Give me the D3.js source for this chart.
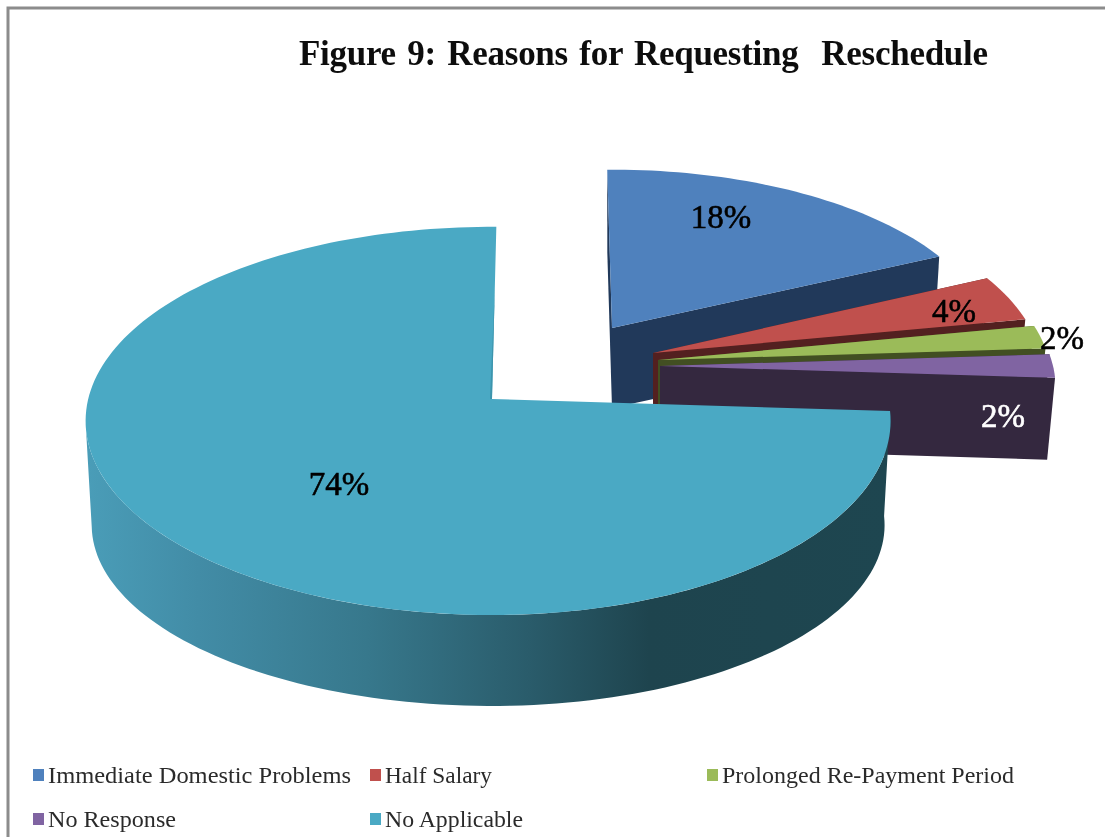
<!DOCTYPE html>
<html>
<head>
<meta charset="utf-8">
<script src="https://cdn.jsdelivr.net/npm/d3@7/dist/d3.min.js"></script>
<style>
html,body{margin:0;padding:0;background:#fff;overflow:hidden}
svg{display:block}
text{font-family:"Liberation Serif",serif}
</style>
</head>
<body>
<svg id="chart" width="1105" height="837"></svg>
<script>
// Data
const categories = ["Immediate Domestic Problems","Half Salary","Prolonged Re-Payment Period","No Response","No Applicable"];
const shares = [18,4,2,2,74];
const titleText = "Figure 9: Reasons for Requesting  Reschedule";

// Styles
const topColors  = ["#4f81bd","#c0504d","#9bbb59","#8064a2","#4aa9c4"];
const sideColors = ["#21395a","#532020","#424f22","#34283f","#1e444e"];
const labelColors = ["#000","#000","#000","#fff","#000"];

// Layout: exploded 3-D pie, one tip per slice
const tipX = [612,653,658,660,492];
const tipY = [328,353,360,366,399];
const radiusRight = [.95,.97,.98,.985,.9925];
const radiusLeft = [.95,.97,.98,.985,1.012];
const radiusY = [.92,.96,.97,.98,1];
const depth = [80,60,50,82,105.6];
const bottomX = [.985,.985,.985,.98,.985];
const bottomY = [.98,.98,.98,.98,.932];
const startNudge = [-.8,0,0,0,0];
const endNudge = [0,0,0,0,.7];
const silhouetteAngle = 263;
const labelX = [721,954,1062,1003,339];
const labelY = [217,311,338,416,484];
const legendX = [33,370,707,33,370];
const legendY = [775,775,775,819,819];
const legendTextWidth = [303,107,292,128,138];
const R = 399, A = 191.6, K = 0.113;

const svg = d3.select("#chart");
const defs = svg.append("defs");
const grad = defs.append("linearGradient").attr("id","wall").attr("gradientUnits","userSpaceOnUse")
  .attr("x1",86).attr("x2",890).attr("y1",0).attr("y2",0);
[[0,"#4a9db8"],[.14,"#428ca6"],[.35,"#37788c"],[.55,"#2a5c6b"],[.7,"#1e444e"],[1,"#1e4650"]]
  .forEach(([o,c])=>grad.append("stop").attr("offset",o).attr("stop-color",c));
defs.append("filter").attr("id","soft").append("feGaussianBlur").attr("stdDeviation",.45);

// frame
svg.append("path").attr("d","M8,837V8H1105").attr("fill","none").attr("stroke","#8c8c8c").attr("stroke-width",3);

// title
svg.append("text").attr("x",299).attr("y",65).attr("font-size",35).attr("font-weight","bold")
  .attr("fill","#111").style("white-space","pre").style("word-spacing","3px")
  .attr("textLength",689).attr("lengthAdjust","spacing").attr("filter","url(#soft)").text(titleText);

const arcs = d3.pie().sort(null).startAngle(0).endAngle(2*Math.PI)(shares);
const toDeg = d3.scaleLinear().domain([0,2*Math.PI]).range([0,360]);

function project(i,deg,r,bottom){
  const a = deg*Math.PI/180;
  const u = r*Math.sin(a), v = -r*Math.cos(a), den = 1-K*v;
  let dx = (u<0?radiusLeft[i]:radiusRight[i])*R*u/den, dy = radiusY[i]*A*v/den;
  if(bottom){ dx*=bottomX[i]; dy=dy*bottomY[i]+depth[i]; }
  return [tipX[i]+dx, tipY[i]+dy];
}
const line = d3.line();
function rim(i,a0,a1,bottom){
  const n = Math.max(4,Math.ceil(Math.abs(a1-a0)/1.5));
  return d3.range(n+1).map(j=>project(i,a0+(a1-a0)*j/n,1,bottom));
}
arcs.forEach((d,i)=>{
  const a0 = toDeg(d.startAngle)+startNudge[i], a1 = toDeg(d.endAngle)+endNudge[i];
  const g = svg.append("g");
  const tip = project(i,0,0,false), tipB = project(i,0,0,true);
  if(i===4){
    // curved outer wall of the big slice
    const front = rim(i,a0,silhouetteAngle,false), back = rim(i,a0,silhouetteAngle,true).reverse();
    g.append("path").attr("d",line(front.concat(back))+"Z").attr("fill","url(#wall)");
  } else {
    // cut faces
    g.append("path").attr("d",line([project(i,a0,1,false),tip,tipB,project(i,a0,1,true)])+"Z").attr("fill",sideColors[i]);
    g.append("path").attr("d",line([tip,project(i,a1,1,false),project(i,a1,1,true),tipB])+"Z").attr("fill",sideColors[i]);
  }
  g.append("path").attr("d",line([tip].concat(rim(i,a0,a1,false)))+"Z").attr("fill",topColors[i]);
  if(i===4){
    // thin darker sliver of the cut face at the top of the big slice
    g.append("path").attr("d",line([project(i,a1,.62,false),tip,[tip[0]-2,tip[1]]])+"Z").attr("fill","#3d94ac");
  }
});

// value labels
svg.append("g").attr("filter","url(#soft)").selectAll("text").data(shares).join("text")
  .attr("x",(d,i)=>labelX[i]).attr("y",(d,i)=>labelY[i]).attr("dy","0.34em")
  .attr("text-anchor","middle").attr("font-size",33).attr("fill",(d,i)=>labelColors[i])
  .attr("stroke",(d,i)=>labelColors[i]).attr("stroke-width",.6)
  .text(d=>d+"%");

// legend
const leg = svg.append("g").selectAll("g").data(categories).join("g")
  .attr("transform",(d,i)=>`translate(${legendX[i]},${legendY[i]})`);
leg.append("rect").attr("x",0).attr("y",-6).attr("width",11).attr("height",12).attr("fill",(d,i)=>topColors[i]);
leg.append("text").attr("x",15).attr("y",0).attr("dy","0.33em").attr("font-size",24).attr("fill","#2b2b2b")
  .attr("textLength",(d,i)=>legendTextWidth[i]).attr("lengthAdjust","spacingAndGlyphs").attr("filter","url(#soft)").text(d=>d);
</script>
</body>
</html>
